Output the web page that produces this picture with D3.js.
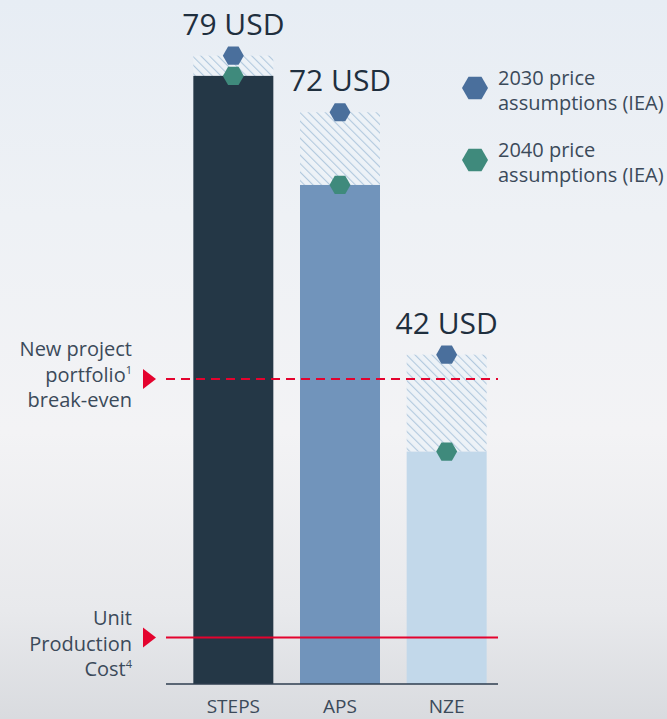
<!DOCTYPE html>
<html>
<head>
<meta charset="utf-8">
<script src="https://cdn.jsdelivr.net/npm/d3@7"></script>
<style>
  html, body { margin: 0; padding: 0; }
  svg { display: block; }
  text { font-family: "Open Sans", "Noto Sans", sans-serif; }
</style>
</head>
<body>
<script>
// Scenario oil price assumptions (USD/bbl)
const scenarios = ["STEPS", "APS", "NZE"];
const price2030 = [79, 72, 42];
const price2040 = [76.5, 63, 30];
const headlineLabels = ["79 USD", "72 USD", "42 USD"];
const breakEven = 39;
const unitProductionCost = 7;
const legendLabels = [["2030 price", "assumptions (IEA)"], ["2040 price", "assumptions (IEA)"]];

const W = 667, H = 719;
const baseY = 684;
const barColors = ["#243746", "#7194bb", "#c2d8ea"];
const hex2030 = "#4a6f9c", hex2040 = "#3f8a7c";
const red = "#e4032e";
const slate = "#3b4a5a";

const svg = d3.select("body").append("svg").attr("width", W).attr("height", H);
const defs = svg.append("defs");

const bg = defs.append("linearGradient").attr("id", "bg").attr("x1", 0).attr("y1", 0).attr("x2", 0).attr("y2", 1);
[[0, "#e7edf4"], [0.3, "#eef1f5"], [0.6, "#f3f3f5"], [0.85, "#e8e9ec"], [1, "#d9dbdf"]]
  .forEach(([o, c]) => bg.append("stop").attr("offset", o).attr("stop-color", c));
svg.append("rect").attr("width", W).attr("height", H).attr("fill", "url(#bg)");

const hatch = defs.append("pattern").attr("id", "hatch").attr("patternUnits", "userSpaceOnUse")
  .attr("width", 6).attr("height", 6).attr("patternTransform", "rotate(-45)");
hatch.append("rect").attr("width", 6).attr("height", 6).attr("fill", "#edf2f7");
hatch.append("line").attr("x1", 0).attr("y1", 0).attr("x2", 0).attr("y2", 6)
  .attr("stroke", "#b2c9de").attr("stroke-width", 2.2);

const x = d3.scaleBand().domain(scenarios).range([180, 500]).paddingInner(0.25).paddingOuter(0.125);
const y = d3.scaleLinear().domain([0, 100]).range([694, -114]);

const data = scenarios.map((s, i) => ({ s, v30: price2030[i], v40: price2040[i], label: headlineLabels[i], color: barColors[i] }));

// hatched band between the 2040 and 2030 price
svg.append("g").selectAll("rect").data(data).join("rect")
  .attr("x", d => x(d.s)).attr("width", x.bandwidth())
  .attr("y", d => y(d.v30)).attr("height", d => y(d.v40) - y(d.v30))
  .attr("fill", "url(#hatch)");

// solid bars up to the 2040 price
svg.append("g").selectAll("rect").data(data).join("rect")
  .attr("x", d => x(d.s)).attr("width", x.bandwidth())
  .attr("y", d => y(d.v40)).attr("height", d => baseY - y(d.v40))
  .attr("fill", d => d.color);

// reference lines
const lineX0 = 166, lineX1 = 498;
svg.append("line").attr("x1", lineX0).attr("x2", lineX1).attr("y1", y(breakEven)).attr("y2", y(breakEven))
  .attr("stroke", red).attr("stroke-width", 2).attr("stroke-dasharray", "9,6");
svg.append("line").attr("x1", lineX0).attr("x2", lineX1).attr("y1", y(unitProductionCost)).attr("y2", y(unitProductionCost))
  .attr("stroke", red).attr("stroke-width", 2);

[breakEven, unitProductionCost].forEach(v => {
  const cy = y(v);
  svg.append("path").attr("d", `M143,${cy - 10}L156,${cy}L143,${cy + 10}Z`).attr("fill", red);
});

// axis baseline and category labels
const xAxis = d3.axisBottom(x).tickSize(0).tickPadding(15.5);
const ax = svg.append("g").attr("transform", `translate(0,${baseY})`).call(xAxis);
ax.select(".domain").remove();
ax.selectAll("text").attr("font-size", 19).attr("fill", slate);
svg.append("line").attr("x1", 166).attr("x2", 498).attr("y1", baseY).attr("y2", baseY)
  .attr("stroke", "#2e3e4f").attr("stroke-width", 1.5);

// hexagon markers
const hexPath = r => {
  const pts = d3.range(6).map(k => [r * Math.cos(k * Math.PI / 3), r * Math.sin(k * Math.PI / 3)]);
  return "M" + pts.map(p => p.join(",")).join("L") + "Z";
};
const cx = d => x(d.s) + x.bandwidth() / 2;
svg.append("g").selectAll("path").data(data).join("path")
  .attr("d", hexPath(10.5)).attr("fill", hex2030)
  .attr("transform", d => `translate(${cx(d)},${y(d.v30)})`);
svg.append("g").selectAll("path").data(data).join("path")
  .attr("d", hexPath(10.5)).attr("fill", hex2040)
  .attr("transform", d => `translate(${cx(d)},${y(d.v40)})`);

// headline price labels
svg.append("g").selectAll("text").data(data).join("text")
  .attr("x", cx).attr("y", d => y(d.v30) - 21)
  .attr("text-anchor", "middle").attr("font-size", 30).attr("font-weight", 500)
  .attr("fill", "#1f2f3e").text(d => d.label);

// left-side annotations
function annot(lines, yBase) {
  const t = svg.append("text").attr("text-anchor", "end").attr("font-size", 20).attr("fill", slate);
  lines.forEach((ln, i) => {
    t.append("tspan").attr("x", 132).attr("y", yBase + i * 25.5).text(ln[0]);
    if (ln[1]) t.append("tspan").attr("font-size", 11).attr("dy", -8).text(ln[1]);
  });
}
annot([["New project"], ["portfolio", "1"], ["break-even"]], 356);
annot([["Unit"], ["Production"], ["Cost", "4"]], 625);

// legend
[hex2030, hex2040].forEach((c, i) => {
  const ly = 88 + i * 72;
  svg.append("path").attr("d", hexPath(13)).attr("fill", c).attr("transform", `translate(475,${ly})`);
  const t = svg.append("text").attr("font-size", 20).attr("fill", slate);
  legendLabels[i].forEach((ln, j) => t.append("tspan").attr("x", 498).attr("y", ly - 3.5 + j * 25.5).text(ln));
});
</script>
</body>
</html>
